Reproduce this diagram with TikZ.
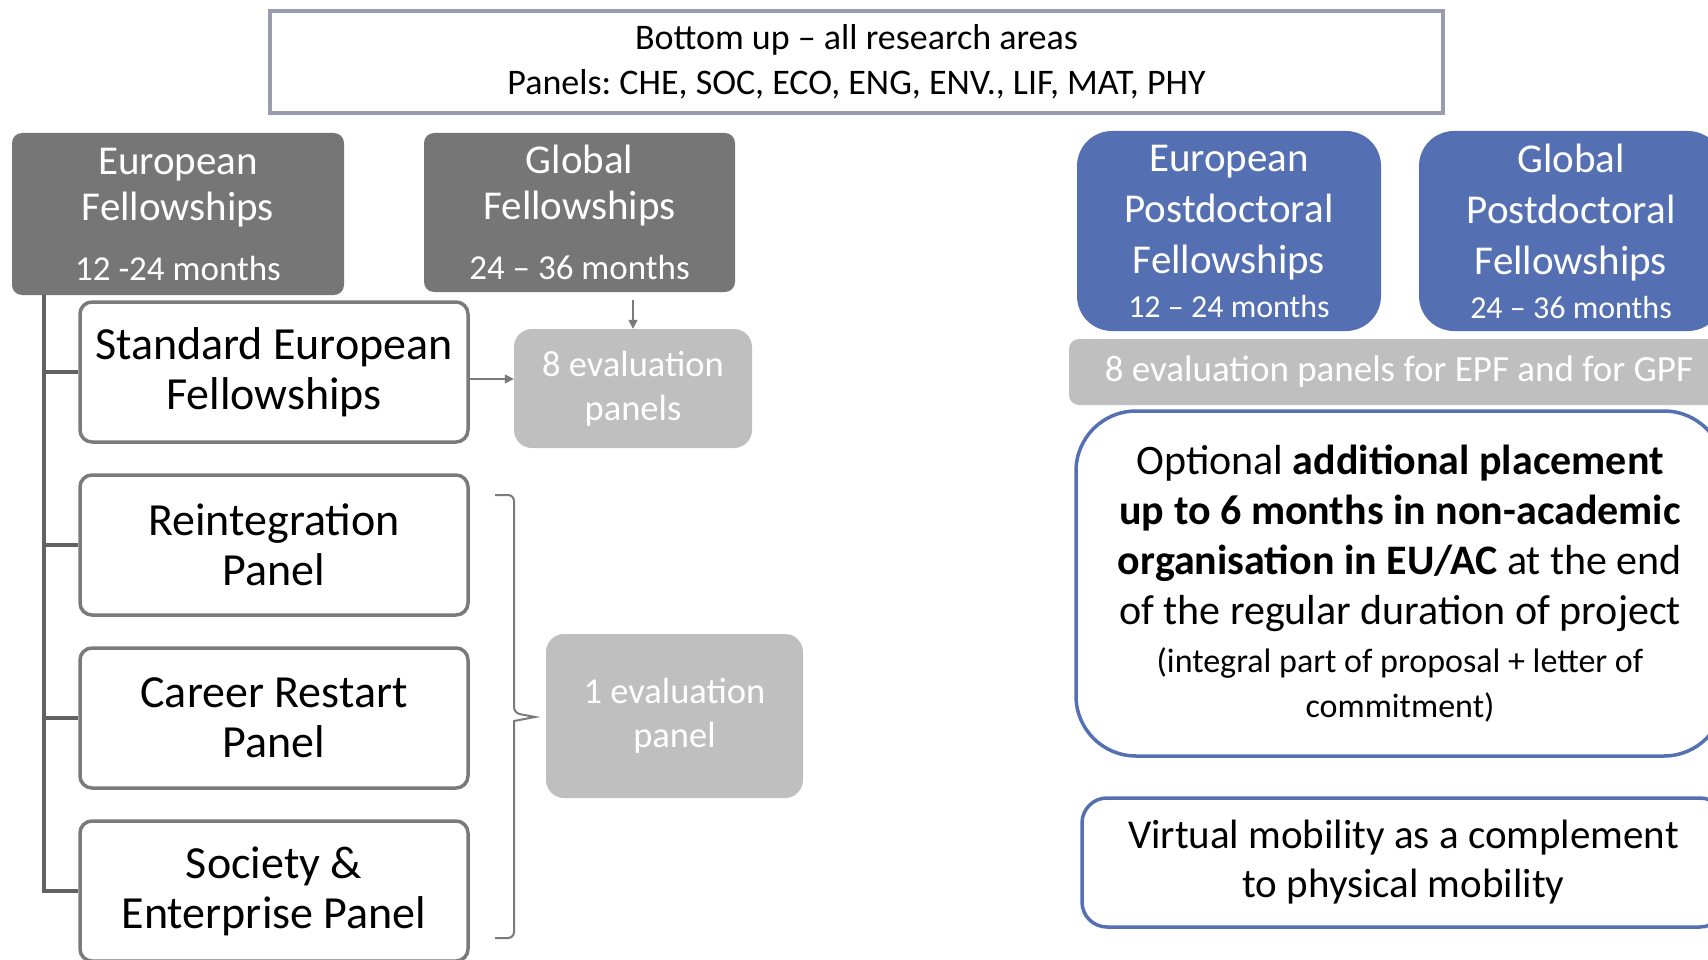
\documentclass[tikz,border=0pt]{standalone}
\usepackage{fontspec}
\setmainfont{Carlito}
\frenchspacing
\usetikzlibrary{positioning,arrows.meta}
\definecolor{hdrgray}{RGB}{118,118,118}
\definecolor{evalgray}{RGB}{191,191,191}
\definecolor{pangray}{RGB}{122,122,122}
\definecolor{treegray}{RGB}{98,98,98}
\definecolor{topframe}{RGB}{155,155,175}
\definecolor{epblue}{RGB}{84,111,178}
\newcommand{\fsz}[2]{\fontsize{#1}{#2}\selectfont}
\tikzstyle{topbox}  = [draw=topframe, line width=3.5pt, fill=white, minimum width=1173pt,
                       minimum height=102pt, align=center, font=\fsz{36}{45}]
\tikzstyle{hdr}     = [fill=hdrgray, rounded corners=10pt, text=white, align=center,
                       font=\fsz{41}{46}]
\tikzstyle{panel}   = [draw=pangray, line width=3.5pt, rounded corners=12pt, fill=white,
                       minimum width=388pt, minimum height=140pt, align=center, font=\fsz{46}{50}]
\tikzstyle{evalbox} = [fill=evalgray, rounded corners=18pt, text=white, align=center,
                       font=\fsz{36.5}{44}]
\tikzstyle{bluehdr} = [fill=epblue, rounded corners=35pt, text=white, align=center,
                       minimum width=304pt, minimum height=200pt, font=\fsz{41}{51}]
\tikzstyle{bluebox} = [draw=epblue, line width=3.5pt, fill=white, align=center, font=\fsz{42}{50}]

\begin{document}
\begin{tikzpicture}[x=1pt, y=-1pt,
    tree/.style={draw=treegray, line width=4pt},
    arrow/.style={draw=pangray, line width=1.6pt, -{Triangle[length=9pt,width=9pt]}},
    bracket/.style={draw=pangray, line width=2pt}]
  \useasboundingbox (0,0) rectangle (1708,960);
  \clip (0,0) rectangle (1708,960);

  % call header
  \node[topbox] (top) at (856.5,62) {Bottom up \textendash{} all research areas\\Panels: CHE, SOC, ECO, ENG, ENV., LIF, MAT, PHY};

  % left: fellowships
  \node[hdr, minimum width=332pt, minimum height=162pt] (EF) at (178,214)
    {European\\Fellowships\\[14pt]{\fsz{35}{40}12 -24 months}};
  \node[hdr, minimum width=311pt, minimum height=159pt] (GF) at (579.5,212.5)
    {Global\\Fellowships\\[14pt]{\fsz{35}{40}24 \textendash{} 36 months}};

  \node[panel] (std) at (274,372) {Standard European\\Fellowships};
  \node[panel, below=29.5pt of std] (reint) {Reintegration\\Panel};
  \node[panel, below=29.5pt of reint] (career) {Career Restart\\Panel};
  \node[panel, below=29.5pt of career] (society) {Society \&\\Enterprise Panel};

  \node[evalbox, minimum width=238pt, minimum height=119pt] (eval8) at (633,388.5) {8 evaluation\\panels};
  \node[evalbox, minimum width=257pt, minimum height=164pt] (eval1) at (674.5,716) {1 evaluation\\panel};

  \draw[tree] ([xshift=32pt]EF.south west) |- (std.west);
  \draw[tree] ([xshift=32pt]EF.south west) |- (reint.west);
  \draw[tree] ([xshift=32pt]EF.south west) |- (career.west);
  \draw[tree] ([xshift=32pt]EF.south west) |- (society.west);

  \draw[arrow] ([yshift=-7pt]std.east) -- ([yshift=-7pt]std.east -| eval8.west);
  \draw[arrow] ([yshift=-8pt]GF.south -| eval8.north) -- (eval8.north);

  \coordinate (brtop) at (495,495);
  \coordinate (brtip) at (535,717);
  \coordinate (brbot) at (495,938);
  \draw[bracket] (brtop) [rounded corners=6pt] -| (514,713) [sharp corners] -- (brtip) -- (514,721)
    [rounded corners=6pt] |- (brbot);

  % right: postdoctoral fellowships
  \node[bluehdr] (EPF) at (1229,231)
    {European\\Postdoctoral\\Fellowships\\[-7pt]{\fsz{32}{36}12 \textendash{} 24 months}};
  \node[bluehdr] (GPF) at (1571,231)
    {Global\\Postdoctoral\\Fellowships\\[-7pt]{\fsz{32}{36}24 \textendash{} 36 months}};

  \node[evalbox, rounded corners=10pt, minimum width=660pt, minimum height=66pt, font=\fsz{37}{44}] (evalall)
    at (1399,372) {8 evaluation panels for EPF and for GPF};

  \node[bluebox, rounded corners=60pt, minimum width=648pt, minimum height=345pt] (opt) at (1400,583.5)
    {Optional \textbf{additional placement}\\
     \textbf{up to 6 months in non-academic}\\
     \textbf{organisation in EU/AC} at the end\\
     of the regular duration of project\\[-2pt]
     {\fsz{34}{45}(integral part of proposal + letter of}\\[-5pt]
     {\fsz{34}{45}commitment)}};
  \node[bluebox, rounded corners=25pt, minimum width=643pt, minimum height=129pt, font=\fsz{41}{49}] (virt)
    at (1403.5,862.5) {Virtual mobility as a complement\\to physical mobility};
\end{tikzpicture}
\end{document}
